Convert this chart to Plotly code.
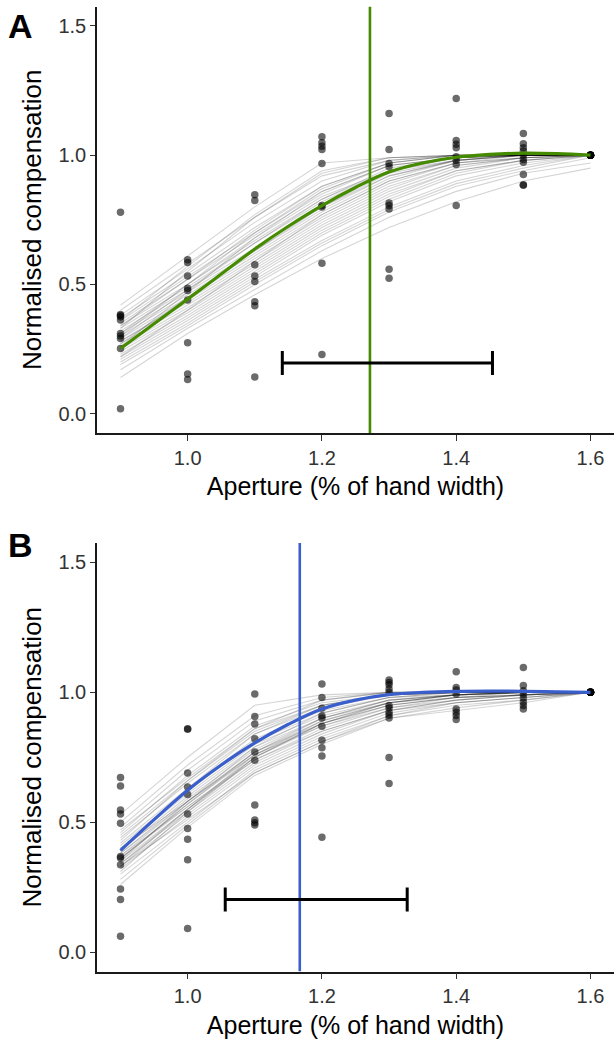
import plotly.graph_objects as go

# ---------------- data ----------------
apertures = [0.9, 1.0, 1.1, 1.2, 1.3, 1.4, 1.5, 1.6]

# Panel A observed points (per aperture)
a_points = {
    0.9: [0.779, 0.384, 0.380, 0.375, 0.362, 0.310, 0.300, 0.291, 0.252, 0.019],
    1.0: [0.595, 0.585, 0.533, 0.485, 0.476, 0.440, 0.274, 0.153, 0.132],
    1.1: [0.847, 0.825, 0.576, 0.533, 0.511, 0.433, 0.417, 0.142],
    1.2: [1.071, 1.048, 1.035, 1.022, 0.968, 0.805, 0.800, 0.582, 0.229],
    1.3: [1.161, 1.022, 0.968, 0.955, 0.815, 0.805, 0.792, 0.559, 0.524],
    1.4: [1.219, 1.057, 1.042, 1.029, 0.994, 0.980, 0.964, 0.805],
    1.5: [1.084, 1.044, 1.029, 1.016, 1.000, 0.983, 0.973, 0.925, 0.886, 0.884],
    1.6: [1.0, 1.0, 1.0, 1.0, 1.0, 1.0, 1.0, 1.0, 1.0, 1.0],
}

# Panel B observed points (per aperture)
b_points = {
    0.9: [0.672, 0.639, 0.547, 0.531, 0.496, 0.368, 0.362, 0.336, 0.243, 0.202, 0.061],
    1.0: [0.860, 0.858, 0.689, 0.635, 0.607, 0.531, 0.476, 0.434, 0.355, 0.091],
    1.1: [0.994, 0.907, 0.878, 0.821, 0.770, 0.738, 0.566, 0.508, 0.498, 0.489],
    1.2: [1.032, 0.980, 0.939, 0.910, 0.901, 0.869, 0.815, 0.787, 0.755, 0.442],
    1.3: [1.047, 1.038, 1.029, 1.013, 1.000, 0.949, 0.940, 0.923, 0.913, 0.901, 0.749, 0.649],
    1.4: [1.079, 1.019, 1.009, 0.994, 0.936, 0.923, 0.911, 0.895],
    1.5: [1.096, 1.026, 1.006, 0.994, 0.978, 0.962, 0.949, 0.936],
    1.6: [1.0, 1.0, 1.0, 1.0, 1.0, 1.0, 1.0, 1.0, 1.0, 1.0],
}

# Individual fitted curves (values at each aperture), panel A
a_curves = [
    [0.42, 0.61, 0.80, 0.97, 0.99, 1.00, 1.00, 1.00],
    [0.40, 0.58, 0.76, 0.93, 0.99, 1.00, 1.00, 1.00],
    [0.38, 0.56, 0.74, 0.90, 0.98, 1.00, 1.00, 1.00],
    [0.37, 0.54, 0.72, 0.88, 0.97, 1.00, 1.00, 1.00],
    [0.36, 0.53, 0.70, 0.86, 0.96, 0.99, 1.00, 1.00],
    [0.35, 0.52, 0.69, 0.85, 0.96, 0.99, 1.00, 1.00],
    [0.34, 0.50, 0.67, 0.83, 0.95, 0.99, 1.00, 1.00],
    [0.33, 0.49, 0.66, 0.82, 0.94, 0.99, 1.00, 1.00],
    [0.32, 0.48, 0.64, 0.80, 0.93, 0.98, 1.00, 1.00],
    [0.31, 0.47, 0.63, 0.79, 0.92, 0.98, 1.00, 1.00],
    [0.30, 0.46, 0.62, 0.78, 0.91, 0.98, 1.00, 1.00],
    [0.29, 0.45, 0.61, 0.77, 0.90, 0.97, 0.99, 1.00],
    [0.28, 0.44, 0.60, 0.76, 0.89, 0.97, 0.99, 1.00],
    [0.28, 0.43, 0.59, 0.75, 0.88, 0.96, 0.99, 1.00],
    [0.27, 0.42, 0.58, 0.74, 0.87, 0.96, 0.99, 1.00],
    [0.26, 0.41, 0.57, 0.73, 0.86, 0.95, 0.99, 1.00],
    [0.25, 0.40, 0.56, 0.72, 0.85, 0.94, 0.98, 1.00],
    [0.24, 0.39, 0.55, 0.71, 0.84, 0.94, 0.98, 1.00],
    [0.23, 0.38, 0.54, 0.70, 0.83, 0.93, 0.98, 1.00],
    [0.22, 0.37, 0.53, 0.69, 0.82, 0.92, 0.97, 1.00],
    [0.21, 0.36, 0.52, 0.67, 0.80, 0.90, 0.96, 1.00],
    [0.20, 0.35, 0.51, 0.66, 0.79, 0.89, 0.95, 1.00],
    [0.19, 0.34, 0.50, 0.65, 0.78, 0.88, 0.94, 0.99],
    [0.17, 0.33, 0.48, 0.63, 0.76, 0.86, 0.93, 0.97],
    [0.14, 0.31, 0.46, 0.60, 0.72, 0.82, 0.90, 0.95],
    [0.33, 0.55, 0.76, 0.92, 0.98, 1.00, 1.00, 1.00],
    [0.26, 0.47, 0.68, 0.86, 0.96, 0.99, 1.00, 1.00],
    [0.30, 0.50, 0.70, 0.87, 0.97, 1.00, 1.00, 1.00],
    [0.22, 0.40, 0.59, 0.77, 0.90, 0.97, 1.00, 1.00],
    [0.36, 0.57, 0.77, 0.94, 0.99, 1.00, 1.00, 1.00],
    [0.31, 0.50, 0.68, 0.84, 0.94, 0.98, 1.00, 1.00],
    [0.27, 0.45, 0.63, 0.80, 0.92, 0.98, 1.00, 1.00],
    [0.34, 0.52, 0.71, 0.88, 0.97, 1.00, 1.00, 1.00],
    [0.29, 0.48, 0.66, 0.83, 0.94, 0.99, 1.00, 1.00],
]

# Individual fitted curves, panel B
b_curves = [
    [0.53, 0.75, 0.95, 0.99, 1.00, 1.00, 1.00, 1.00],
    [0.50, 0.72, 0.91, 0.98, 1.00, 1.00, 1.00, 1.00],
    [0.48, 0.70, 0.89, 0.97, 1.00, 1.00, 1.00, 1.00],
    [0.46, 0.68, 0.87, 0.96, 0.99, 1.00, 1.00, 1.00],
    [0.45, 0.66, 0.85, 0.95, 0.99, 1.00, 1.00, 1.00],
    [0.44, 0.65, 0.84, 0.94, 0.99, 1.00, 1.00, 1.00],
    [0.42, 0.63, 0.82, 0.93, 0.98, 1.00, 1.00, 1.00],
    [0.41, 0.62, 0.81, 0.92, 0.98, 0.99, 1.00, 1.00],
    [0.40, 0.61, 0.80, 0.91, 0.97, 0.99, 1.00, 1.00],
    [0.39, 0.60, 0.79, 0.90, 0.97, 0.99, 1.00, 1.00],
    [0.38, 0.59, 0.78, 0.90, 0.96, 0.99, 1.00, 1.00],
    [0.37, 0.58, 0.77, 0.89, 0.96, 0.98, 0.99, 1.00],
    [0.36, 0.57, 0.76, 0.88, 0.95, 0.98, 0.99, 1.00],
    [0.36, 0.56, 0.75, 0.87, 0.95, 0.98, 0.99, 1.00],
    [0.35, 0.55, 0.74, 0.86, 0.94, 0.97, 0.99, 1.00],
    [0.34, 0.54, 0.73, 0.85, 0.93, 0.97, 0.99, 1.00],
    [0.33, 0.53, 0.72, 0.84, 0.93, 0.96, 0.98, 1.00],
    [0.32, 0.52, 0.71, 0.83, 0.92, 0.96, 0.98, 1.00],
    [0.30, 0.50, 0.70, 0.82, 0.91, 0.95, 0.97, 1.00],
    [0.28, 0.49, 0.69, 0.81, 0.90, 0.94, 0.97, 1.00],
    [0.26, 0.48, 0.68, 0.80, 0.90, 0.93, 0.96, 1.00],
    [0.43, 0.66, 0.86, 0.97, 1.00, 1.00, 1.00, 1.00],
    [0.39, 0.63, 0.84, 0.95, 0.99, 1.00, 1.00, 1.00],
    [0.35, 0.58, 0.79, 0.92, 0.98, 1.00, 1.00, 1.00],
    [0.31, 0.54, 0.75, 0.88, 0.96, 0.99, 1.00, 1.00],
    [0.37, 0.56, 0.74, 0.85, 0.93, 0.97, 0.99, 1.00],
    [0.33, 0.51, 0.69, 0.81, 0.91, 0.96, 0.98, 1.00],
    [0.47, 0.67, 0.86, 0.95, 0.99, 1.00, 1.00, 1.00],
    [0.40, 0.58, 0.76, 0.87, 0.94, 0.98, 0.99, 1.00],
    [0.34, 0.55, 0.76, 0.89, 0.96, 0.99, 1.00, 1.00],
    [0.36, 0.57, 0.77, 0.90, 0.97, 0.99, 1.00, 1.00],
    [0.38, 0.58, 0.77, 0.88, 0.95, 0.98, 1.00, 1.00],
    [0.33, 0.55, 0.75, 0.88, 0.96, 0.99, 1.00, 1.00],
]

# Group-level fitted curve
fit_x = [0.9, 0.95, 1.0, 1.05, 1.1, 1.15, 1.2, 1.25, 1.3, 1.35, 1.4, 1.45, 1.5, 1.55, 1.6]
a_fit = [0.252, 0.348, 0.443, 0.540, 0.637, 0.725, 0.805, 0.875, 0.935, 0.970, 0.992, 1.003, 1.008, 1.006, 1.000]
b_fit = [0.391, 0.510, 0.623, 0.720, 0.805, 0.877, 0.936, 0.970, 0.991, 1.000, 1.004, 1.005, 1.004, 1.002, 1.000]

# Threshold and its interval
a_threshold, a_ci_low, a_ci_high, a_ci_y = 1.2715, 1.141, 1.454, 0.196
b_threshold, b_ci_low, b_ci_high, b_ci_y = 1.167, 1.056, 1.327, 0.202

x_ticks = [1.0, 1.2, 1.4, 1.6]
y_ticks = [0.0, 0.5, 1.0, 1.5]

# ---------------- figure ----------------
FONT = "Liberation Sans, Arial, Helvetica, sans-serif"
GREEN = "#458B00"
BLUE = "#3A5FCD"

fig = go.Figure()


def add_panel(points, curves, fit, thr, lo, hi, cy, color, xa, ya):
    for c in curves:
        fig.add_trace(go.Scatter(
            x=apertures, y=c, mode="lines",
            line=dict(color="rgba(0,0,0,0.17)", width=1.1),
            xaxis=xa, yaxis=ya, showlegend=False, hoverinfo="skip"))
    px, py = [], []
    for ap in apertures:
        for v in points[ap]:
            px.append(ap)
            py.append(v)
    fig.add_trace(go.Scatter(
        x=px, y=py, mode="markers",
        marker=dict(color="rgba(0,0,0,0.58)", size=7.5, line=dict(width=0)),
        xaxis=xa, yaxis=ya, showlegend=False))
    fig.add_trace(go.Scatter(
        x=fit_x, y=fit, mode="lines", line=dict(color=color, width=3.2, shape="spline"),
        xaxis=xa, yaxis=ya, showlegend=False))
    fig.add_trace(go.Scatter(
        x=[thr, thr], y=[-0.075, 1.575], mode="lines", line=dict(color=color, width=2.6),
        xaxis=xa, yaxis=ya, showlegend=False))
    fig.add_trace(go.Scatter(
        x=[thr], y=[cy], mode="markers", marker=dict(size=0.1, color="rgba(0,0,0,0)"),
        error_x=dict(type="data", symmetric=False, array=[hi - thr], arrayminus=[thr - lo],
                     color="black", thickness=3, width=12),
        xaxis=xa, yaxis=ya, showlegend=False))


add_panel(a_points, a_curves, a_fit, a_threshold, a_ci_low, a_ci_high, a_ci_y, GREEN, "x", "y")
add_panel(b_points, b_curves, b_fit, b_threshold, b_ci_low, b_ci_high, b_ci_y, BLUE, "x2", "y2")

H = 1039.0
xdom = [97 / 614, 1.0]
ydomA = [(H - 433) / H, (H - 6.6) / H]
ydomB = [(H - 971.5) / H, (H - 543) / H]

common_x = dict(range=[0.865, 1.635], tickvals=x_ticks, ticktext=[f"{t:.1f}" for t in x_ticks],
                showline=True, linecolor="#1a1a1a", linewidth=1.6, ticks="outside", ticklen=6,
                tickwidth=1.4, tickcolor="#333333", showgrid=False, zeroline=False,
                tickfont=dict(family=FONT, size=20, color="#333333"),
                title=dict(text="Aperture (% of hand width)", font=dict(family=FONT, size=25, color="black"),
                           standoff=10))
common_y = dict(range=[-0.075, 1.575], tickvals=y_ticks, ticktext=[f"{t:.1f}" for t in y_ticks],
                showline=True, linecolor="#1a1a1a", linewidth=1.6, ticks="outside", ticklen=5,
                tickwidth=1.4, tickcolor="#333333", showgrid=False, zeroline=False,
                tickfont=dict(family=FONT, size=20, color="#333333"),
                title=dict(text="Normalised compensation", font=dict(family=FONT, size=26, color="black"),
                           standoff=9))

fig.update_layout(
    width=614, height=1039,
    margin=dict(l=0, r=0, t=0, b=0),
    paper_bgcolor="white", plot_bgcolor="white",
    showlegend=False,
    xaxis=dict(domain=xdom, anchor="y", **common_x),
    yaxis=dict(domain=ydomA, anchor="x", **common_y),
    xaxis2=dict(domain=xdom, anchor="y2", **common_x),
    yaxis2=dict(domain=ydomB, anchor="x2", **common_y),
    annotations=[
        dict(text="<b>A</b>", x=20 / 614, y=(H - 26) / H, xref="paper", yref="paper",
             showarrow=False, font=dict(family=FONT, size=34, color="black"), xanchor="center", yanchor="middle"),
        dict(text="<b>B</b>", x=20 / 614, y=(H - 545) / H, xref="paper", yref="paper",
             showarrow=False, font=dict(family=FONT, size=34, color="black"), xanchor="center", yanchor="middle"),
    ],
)

fig.write_html("out.html")
